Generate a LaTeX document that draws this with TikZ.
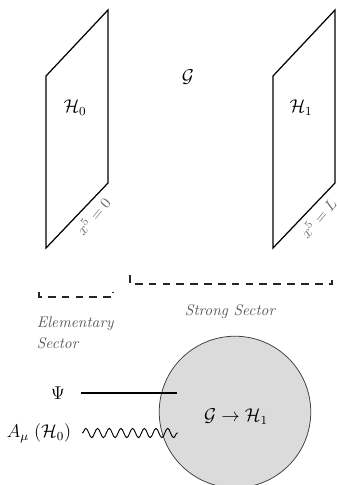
\documentclass[tikz,border=0pt]{standalone}
\usepackage{amsmath}
\usepackage{tikz}
\usetikzlibrary{arrows.meta,positioning,calc,decorations.pathmorphing}
\usepackage{xcolor}
\tikzset{
  plane/.style={draw=black, line width=0.8pt, line join=miter},
  bracket/.style={draw=black!85, line width=0.9pt, dash pattern=on 5pt off 4pt},
  sectorlabel/.style={text=black!65, font=\itshape, align=left, inner sep=1pt},
  branelabel/.style={text=black!60, inner sep=0pt},
  field/.style={font=\large, inner sep=2pt},
  blob/.style={circle, draw=black!75, fill=black!14, line width=0.5pt, inner sep=0pt},
  fermion/.style={line width=0.7pt},
  gauge/.style={line width=0.6pt, decorate, decoration={snake, amplitude=3pt, segment length=7.6pt}}
}

\begin{document}
\begin{tikzpicture}[x=0.65pt, y=-0.65pt]
\useasboundingbox (0,0) rectangle (337,485);
% branes
\draw[plane] (46,76) -- (108,10) -- (108,183) -- (46,248) -- cycle;
\draw[plane] (273,76) -- (335,10) -- (335,183) -- (273,248) -- cycle;
\node[field] (h0) at (75,108) {$\mathcal{H}_0$};
\node[field] (h1) at (301,108) {$\mathcal{H}_1$};
\node[field] (bulk) at (188,77) {$\mathcal{G}$};
\node[branelabel, rotate=50] (x0) at (93,216) {$x^5=0$};
\node[branelabel, rotate=50] (xL) at (318,218) {$x^5=L$};
% sectors
\draw[bracket] (39,292) -- (39,297) -- (113,297) -- (113,292);
\draw[bracket] (130,275) -- (130,284) -- (332,284) -- (332,275);
\node[sectorlabel, anchor=west] (elem) at (35,333) {Elementary\\[2pt]Sector};
\node[sectorlabel] (strong) at (230,312) {Strong Sector};
% strong dynamics
\node[blob, minimum size=98.5pt] (core) at (235,412) {};
\node[field] (map) at (236,417) {$\mathcal{G}\to\mathcal{H}_1$};
\node[field] (psi) at (58,393) {$\Psi$};
\coordinate (psiend) at (177,393);
\node[field] (amu) at (39,433) {$A_\mu\;(\mathcal{H}_0)$};
\coordinate (amuend) at (178,433);
\draw[fermion] (psi.east) ++(8pt,0) coordinate (psistart) -- (psiend);
\draw[gauge] (amu.east) ++(5pt,0) coordinate (amustart) -- (amuend);
\end{tikzpicture}
\end{document}
